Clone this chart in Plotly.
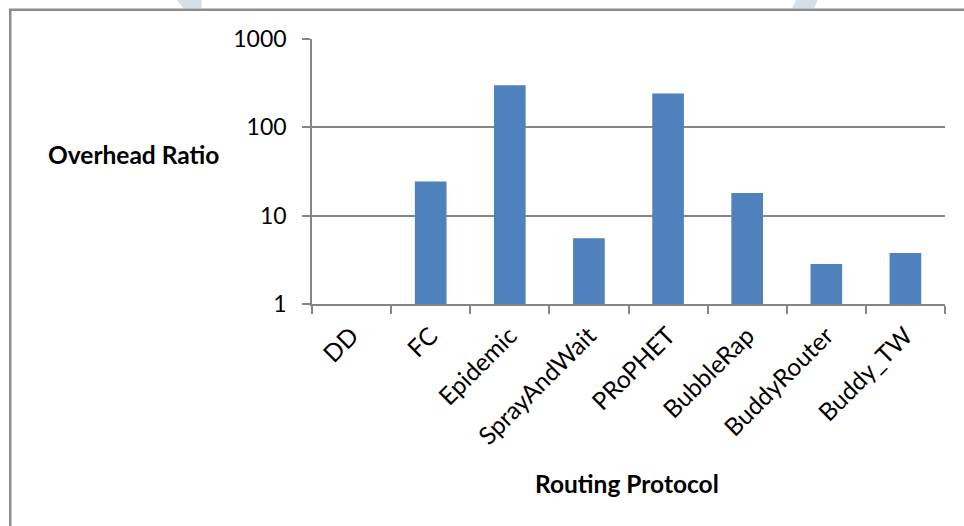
import plotly.graph_objects as go

# Overhead ratio per routing protocol (log scale)
protocols = ["DD", "FC", "Epidemic", "SprayAndWait", "PRoPHET",
             "BubbleRap", "BuddyRouter", "Buddy_TW"]
overhead_ratio = [1.0, 24.3, 300.0, 5.55, 241.0, 18.0, 2.83, 3.77]
y_tick_vals = [1, 10, 100, 1000]
y_tick_text = ["1", "10", "100", "1000"]

W, H = 964, 526
L, R, T, B = 311.5, 19, 39.3, 222.3
PW, PH = W - L - R, H - T - B

FONT = "Lato"
GRID = "#868686"
BAR = "#4F81BD"


def px_x(x):
    return (x - L) / PW


def px_y(y):
    return (H - B - y) / PH


fig = go.Figure(
    go.Bar(
        x=protocols,
        y=overhead_ratio,
        marker=dict(color=BAR, line=dict(width=0)),
        width=0.4,
    )
)

fig.update_layout(
    width=W,
    height=H,
    margin=dict(l=L, r=R, t=T, b=B, pad=0),
    paper_bgcolor="white",
    plot_bgcolor="white",
    showlegend=False,
    font=dict(family=FONT, size=23, color="black"),
    bargap=0.6,
)

fig.update_xaxes(
    type="category",
    tickson="boundaries",
    ticks="outside",
    ticklen=8,
    tickwidth=1.5,
    tickcolor=GRID,
    showline=True,
    linecolor=GRID,
    linewidth=1.5,
    showgrid=False,
    tickangle=-45,
    ticklabelstandoff=6,
    tickfont=dict(family=FONT, size=24.5),
)

fig.update_yaxes(
    type="log",
    range=[0, 3],
    tickvals=y_tick_vals,
    ticktext=y_tick_text,
    ticks="outside",
    ticklen=8,
    tickwidth=1.5,
    tickcolor=GRID,
    showline=True,
    linecolor=GRID,
    linewidth=1.5,
    showgrid=True,
    gridcolor=GRID,
    gridwidth=1.5,
    zeroline=False,
    ticklabelstandoff=11,
    tickfont=dict(family=FONT, size=23),
)

# axis titles
fig.add_annotation(
    text="<b>Overhead Ratio</b>", xref="paper", yref="paper",
    x=px_x(133), y=px_y(155), xanchor="center", yanchor="middle",
    showarrow=False, font=dict(family=FONT, size=24.5),
)
fig.add_annotation(
    text="<b>Routing Protocol</b>", xref="paper", yref="paper",
    x=px_x(627), y=px_y(483), xanchor="center", yanchor="middle",
    showarrow=False, font=dict(family=FONT, size=24.5),
)

# chart frame
fig.add_shape(
    type="rect", xref="paper", yref="paper",
    x0=px_x(9.5), x1=px_x(1000), y0=px_y(560), y1=px_y(10.2),
    line=dict(color="#8c8c8c", width=2.5), fillcolor="rgba(0,0,0,0)",
    layer="above",
)


# faint page decorations above the frame
def deco(pts):
    path = "M " + " L ".join(f"{px_x(a)},{px_y(b)}" for a, b in pts) + " Z"
    fig.add_shape(type="path", xref="paper", yref="paper", path=path,
                  fillcolor="#d6dfe6", line=dict(width=0), layer="below")


deco([(176, 0), (201, 0), (201, 8.5), (183, 8.5)])
deco([(796, 0), (818, 0), (814, 8.5), (792, 8.5)])

fig.write_html("out.html")
